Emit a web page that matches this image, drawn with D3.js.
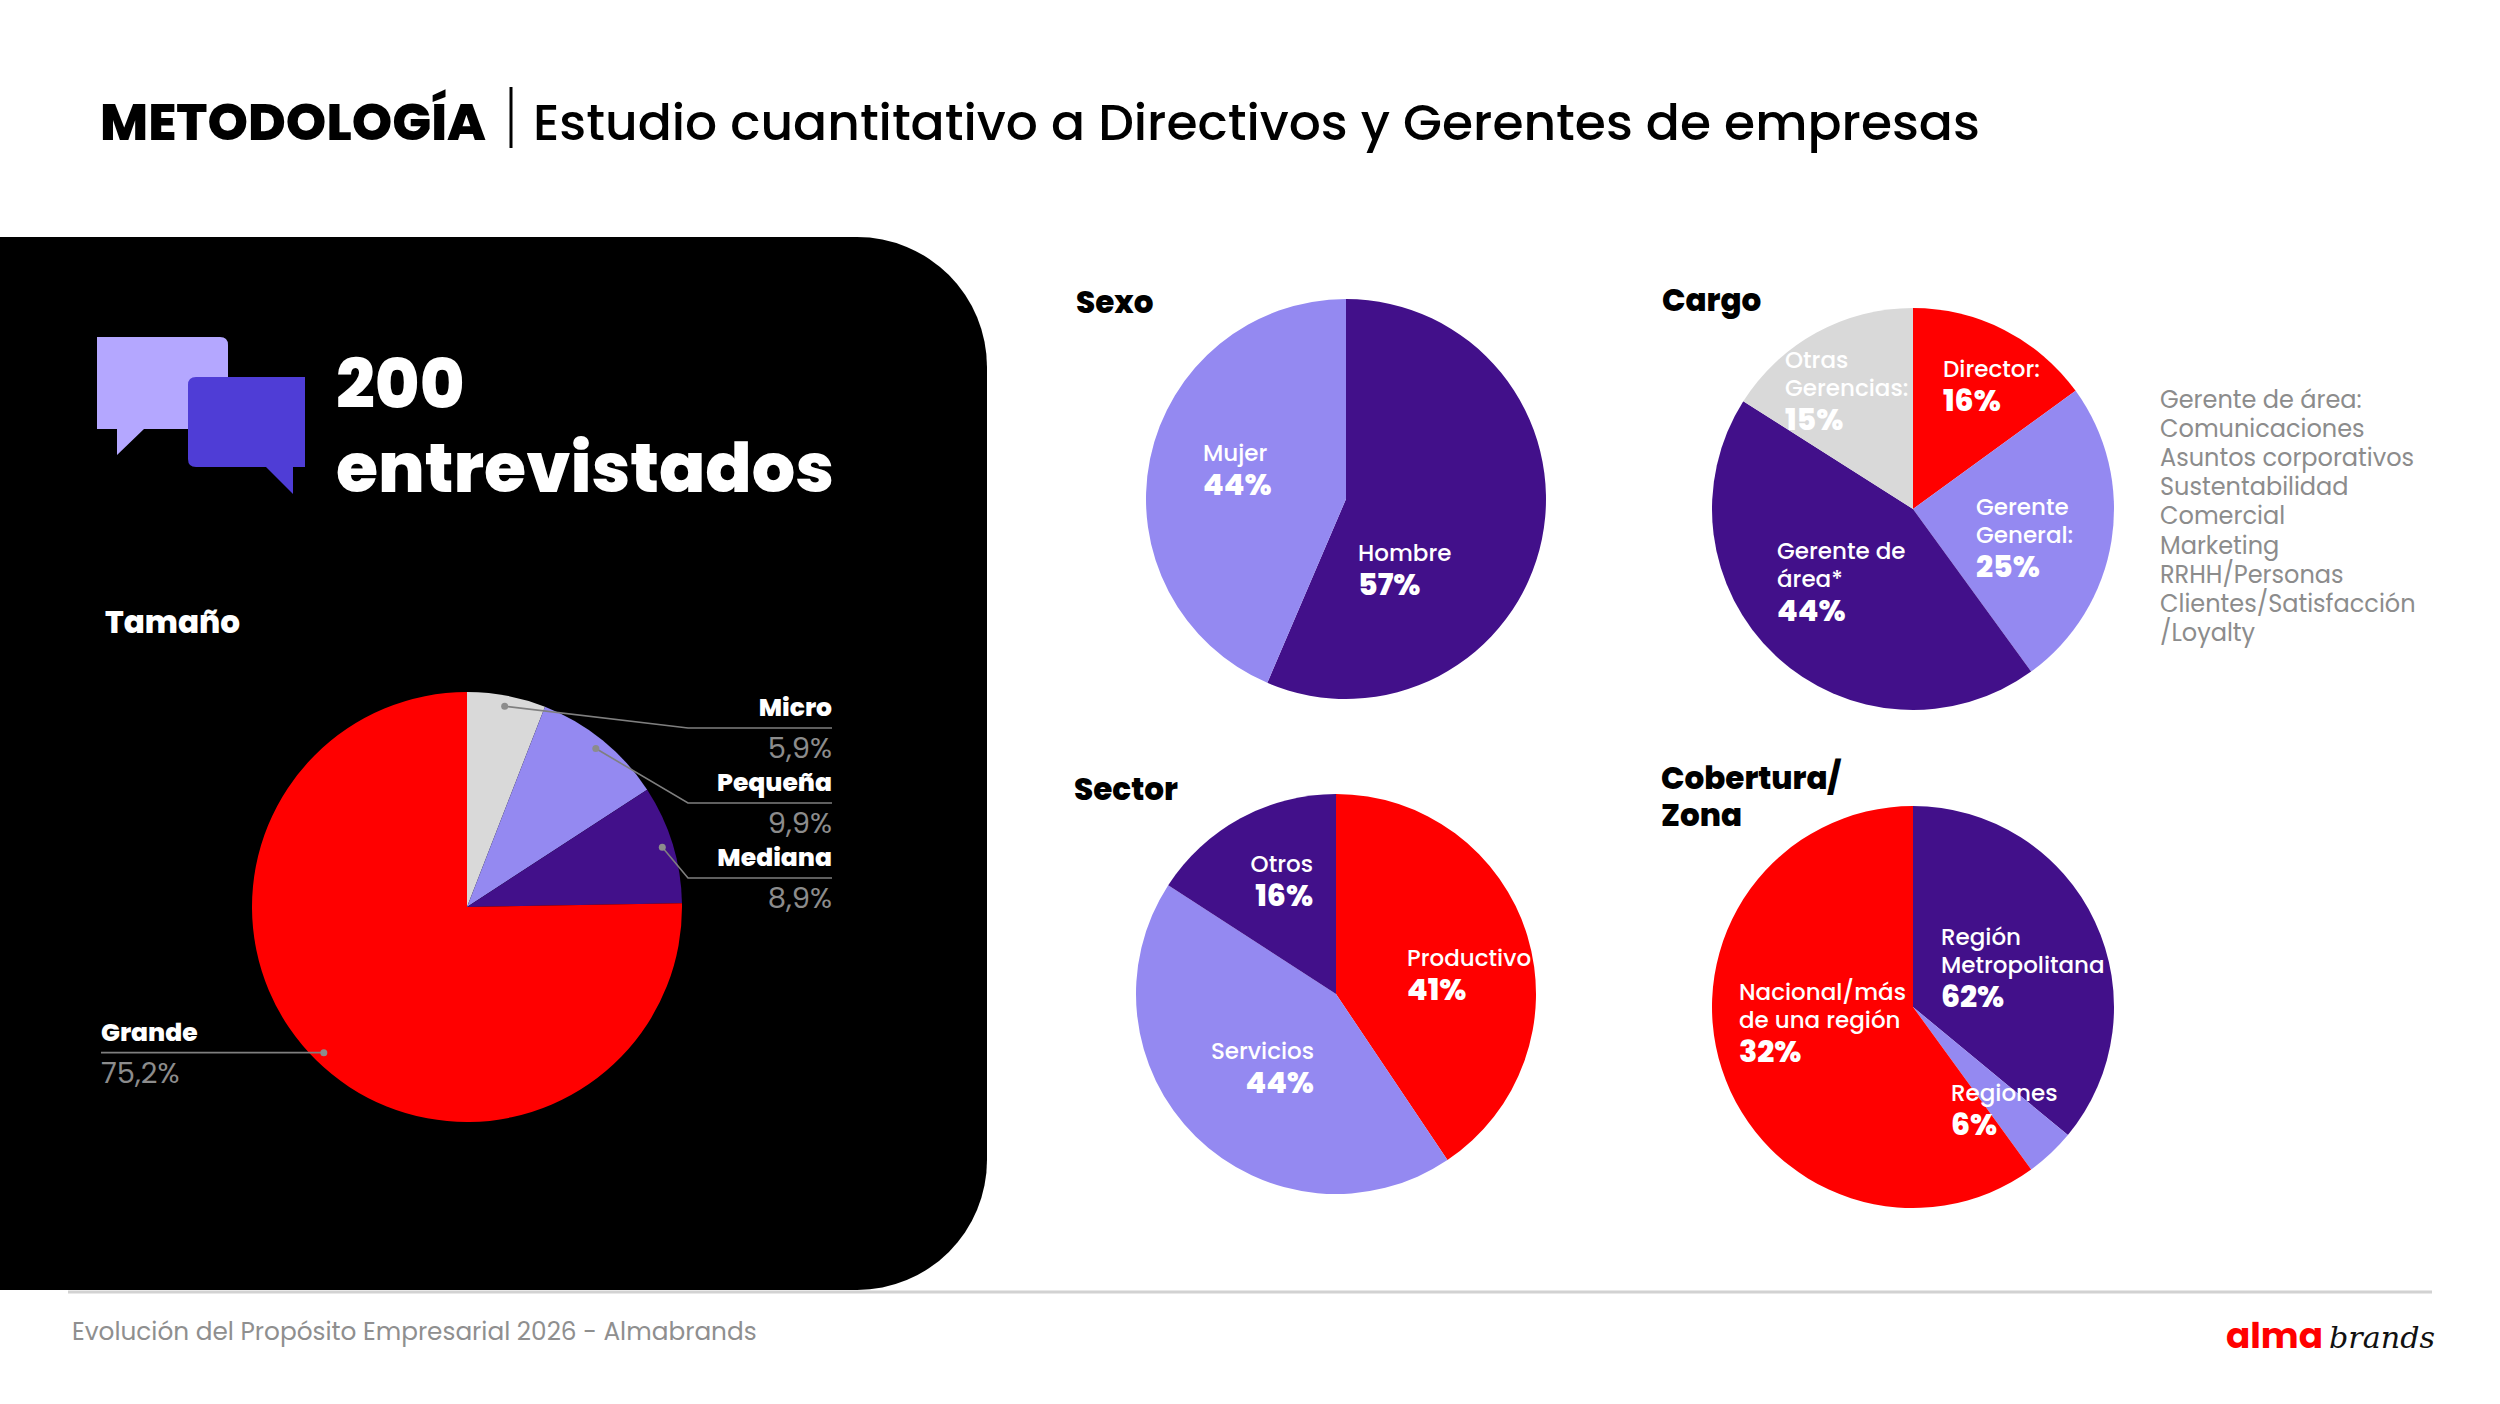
<!DOCTYPE html>
<html>
<head>
<meta charset="utf-8">
<script src="https://cdn.jsdelivr.net/npm/d3@7"></script>
<style>
  body { margin: 0; background: #fff; }
  svg { display: block; }
</style>
</head>
<body>
<div id="chart"></div>
<script>
// ---- data ----
var tamanoNames = ["Micro", "Pequeña", "Mediana", "Grande"];
var tamanoValues = [5.9, 9.9, 8.9, 75.2];
var tamanoText = ["5,9%", "9,9%", "8,9%", "75,2%"];

var sexoNames = [["Hombre"], ["Mujer"]];
var sexoValues = [57, 44];
var sexoText = ["57%", "44%"];

// slice sizes as drawn (Director ~15, Otras ~16); printed labels kept as on the slide
var cargoNames = [["Director:"], ["Gerente", "General:"], ["Gerente de", "área*"], ["Otras", "Gerencias:"]];
var cargoValues = [15, 25, 44, 16];
var cargoText = ["16%", "25%", "44%", "15%"];

var sectorNames = [["Productivo"], ["Servicios"], ["Otros"]];
var sectorValues = [41, 44, 16];
var sectorText = ["41%", "44%", "16%"];

// slice sizes as drawn; the printed labels differ on the slide
var zonaNames = [["Región", "Metropolitana"], ["Regiones"], ["Nacional/más", "de una región"]];
var zonaValues = [36, 4, 60];
var zonaText = ["62%", "6%", "32%"];

var gerenteAreaList = ["Gerente de área:", "Comunicaciones", "Asuntos corporativos", "Sustentabilidad",
  "Comercial", "Marketing", "RRHH/Personas", "Clientes/Satisfacción", "/Loyalty"];

// ---- styles ----
var RED = "#ff0000", DARK = "#42108a", LAV = "#9489f1", GREY = "#d9d9d9";
var FONT = "Poppins, Inter, 'Open Sans', sans-serif";

var svgWidth = 2500;
var svgHeight = 1404;

var svg = d3.select("#chart")
  .append("svg")
  .attr("width", svgWidth)
  .attr("height", svgHeight)
  .style("font-family", FONT);

// scale a text's font-size so it spans the given width
function fitWidth(sel, target) {
  var fs = parseFloat(sel.attr("font-size"));
  var w = sel.node().getComputedTextLength();
  sel.attr("font-size", fs * target / w);
  return fs * target / w;
}

// ---- header ----
var t1 = svg.append("text").attr("x", 100).attr("y", 140)
  .attr("font-size", 56).attr("font-weight", 800).attr("fill", "#000")
  .text("METODOLOGÍA");
fitWidth(t1, 386);
svg.append("line").attr("x1", 511).attr("x2", 511).attr("y1", 87).attr("y2", 148)
  .attr("stroke", "#000").attr("stroke-width", 3);
var t2 = svg.append("text").attr("x", 533).attr("y", 140)
  .attr("font-size", 52).attr("font-weight", 500).attr("fill", "#000")
  .text("Estudio cuantitativo a Directivos y Gerentes de empresas");
fitWidth(t2, 1447);

// ---- black panel ----
var pL = 0, pT = 237, pR = 987, pB = 1290, pr = 130;
svg.append("path")
  .attr("d", "M" + pL + "," + pT + "H" + (pR - pr) +
    "A" + pr + "," + pr + " 0 0 1 " + pR + "," + (pT + pr) +
    "V" + (pB - pr) +
    "A" + pr + "," + pr + " 0 0 1 " + (pR - pr) + "," + pB +
    "H" + pL + "Z")
  .attr("fill", "#000");

// footer rule
svg.append("line").attr("x1", 68).attr("x2", 2432).attr("y1", 1292).attr("y2", 1292)
  .attr("stroke", "#d2d2d2").attr("stroke-width", 3);

// speech bubbles icon
svg.append("path")
  .attr("d", "M97,337H220Q228,337 228,345V429H144L117,455V429H97Z")
  .attr("fill", "#b4a7ff");
svg.append("path")
  .attr("d", "M196,377H305V467H293V494L266,467H196Q188,467 188,459V385Q188,377 196,377Z")
  .attr("fill", "#4f3dd6");

var big2 = svg.append("text").attr("x", 336).attr("y", 492)
  .attr("font-size", 70).attr("font-weight", 800).attr("fill", "#fff")
  .text("entrevistados");
var bigFs = fitWidth(big2, 498);
svg.append("text").attr("x", 336).attr("y", 408)
  .attr("font-size", bigFs).attr("font-weight", 800).attr("fill", "#fff")
  .text("200");

svg.append("text").attr("x", 105).attr("y", 633)
  .attr("font-size", 31).attr("font-weight", 800).attr("fill", "#fff")
  .text("Tamaño");

// ---- generic pie ----
var pie = d3.pie().sort(null).value(function(d) { return d; });

function drawPie(cx, cy, r, values, colors) {
  var g = svg.append("g").attr("transform", "translate(" + cx + "," + cy + ")");
  var arc = d3.arc().innerRadius(0).outerRadius(r);
  g.selectAll("path")
    .data(pie(values))
    .enter()
    .append("path")
    .attr("d", arc)
    .attr("fill", function(d, i) { return colors[i]; });
  return g;
}

// white in-slice labels: name lines then bold percent
function pieLabels(g, names, texts, pos) {
  names.forEach(function(lines, i) {
    var p = pos[i];
    var lab = g.append("text")
      .attr("text-anchor", p[2] || "start")
      .attr("fill", "#fff");
    lines.forEach(function(line, k) {
      lab.append("tspan").attr("x", p[0]).attr("y", p[1] + k * 28)
        .attr("font-size", 23).attr("font-weight", 500)
        .text(line);
    });
    lab.append("tspan").attr("x", p[0]).attr("y", p[1] + (lines.length - 1) * 28 + 34)
      .attr("font-size", 30).attr("font-weight", 800)
      .text(texts[i]);
  });
}

function chartTitle(x, y, lines) {
  var t = svg.append("text").attr("font-size", 31).attr("font-weight", 800).attr("fill", "#000");
  lines.forEach(function(line, k) {
    t.append("tspan").attr("x", x).attr("y", y + k * 37).text(line);
  });
}

// ---- Tamaño pie with leader labels ----
var tR = 215, tCx = 467, tCy = 907;
var tg = drawPie(tCx, tCy, tR, tamanoValues, [GREY, LAV, DARK, RED]);
var tArcs = pie(tamanoValues);
var dotArc = d3.arc().innerRadius(tR * 0.95).outerRadius(tR * 0.95);
var rowY = [728, 803, 878];
var labelRight = 832, elbowX = 688;

tArcs.forEach(function(a, i) {
  var c = dotArc.centroid(a);
  var dx = tCx + c[0], dy = tCy + c[1];
  if (i < 3) {
    svg.append("polyline")
      .attr("points", [[dx, dy], [elbowX, rowY[i]], [labelRight, rowY[i]]].join(" "))
      .attr("fill", "none").attr("stroke", "#7f7f7f").attr("stroke-width", 1.6);
    svg.append("text").attr("x", labelRight).attr("y", rowY[i] - 12)
      .attr("text-anchor", "end").attr("font-size", 25).attr("font-weight", 800)
      .attr("fill", "#fff").text(tamanoNames[i]);
    svg.append("text").attr("x", labelRight).attr("y", rowY[i] + 30)
      .attr("text-anchor", "end").attr("font-size", 29).attr("font-weight", 400)
      .attr("fill", "#8c8c8c").text(tamanoText[i]);
  } else {
    svg.append("line").attr("x1", 101).attr("x2", dx).attr("y1", dy).attr("y2", dy)
      .attr("stroke", "#7f7f7f").attr("stroke-width", 1.6);
    svg.append("text").attr("x", 101).attr("y", dy - 12)
      .attr("font-size", 25).attr("font-weight", 800)
      .attr("fill", "#fff").text(tamanoNames[i]);
    svg.append("text").attr("x", 101).attr("y", dy + 30)
      .attr("font-size", 29).attr("font-weight", 400)
      .attr("fill", "#8c8c8c").text(tamanoText[i]);
  }
  svg.append("circle").attr("cx", dx).attr("cy", dy).attr("r", 3.5).attr("fill", "#8c8c8c");
});

// ---- Sexo ----
chartTitle(1076, 313, ["Sexo"]);
var sg = drawPie(1346, 499, 200, sexoValues, [DARK, LAV]);
pieLabels(sg, sexoNames, sexoText, [[12, 62], [-143, -38]]);

// ---- Cargo ----
chartTitle(1662, 311, ["Cargo"]);
var cg = drawPie(1913, 509, 201, cargoValues, [RED, LAV, DARK, GREY]);
pieLabels(cg, cargoNames, cargoText, [[30, -132], [63, 6], [-136, 50], [-128, -141]]);

svg.append("g").selectAll("text")
  .data(gerenteAreaList)
  .enter()
  .append("text")
  .attr("x", 2160)
  .attr("y", function(d, i) { return 408 + i * 29.1; })
  .attr("font-size", 24)
  .attr("fill", "#8c8c8c")
  .text(function(d) { return d; });

// ---- Sector ----
chartTitle(1074, 800, ["Sector"]);
var secg = drawPie(1336, 994, 200, sectorValues, [RED, LAV, DARK]);
pieLabels(secg, sectorNames, sectorText, [[71, -28], [-22, 65, "end"], [-23, -122, "end"]]);

// ---- Cobertura / Zona ----
chartTitle(1661, 789, ["Cobertura/", "Zona"]);
var zg = drawPie(1913, 1007, 201, zonaValues, [DARK, LAV, RED]);
pieLabels(zg, zonaNames, zonaText, [[28, -62], [38, 94], [-174, -7]]);

// ---- footer ----
var ft = svg.append("text").attr("x", 72).attr("y", 1340)
  .attr("font-size", 26).attr("fill", "#8f8f8f")
  .text("Evolución del Propósito Empresarial 2026 - Almabrands");
fitWidth(ft, 685);

var la = svg.append("text").attr("x", 2226).attr("y", 1348)
  .attr("font-size", 40).attr("font-weight", 700).attr("fill", RED)
  .text("alma");
fitWidth(la, 97);
var lb = svg.append("text").attr("x", 2329).attr("y", 1348)
  .attr("font-size", 40).attr("font-style", "italic")
  .attr("font-family", "'DejaVu Serif', serif").attr("fill", "#111")
  .text("brands");
fitWidth(lb, 106);
</script>
</body>
</html>
